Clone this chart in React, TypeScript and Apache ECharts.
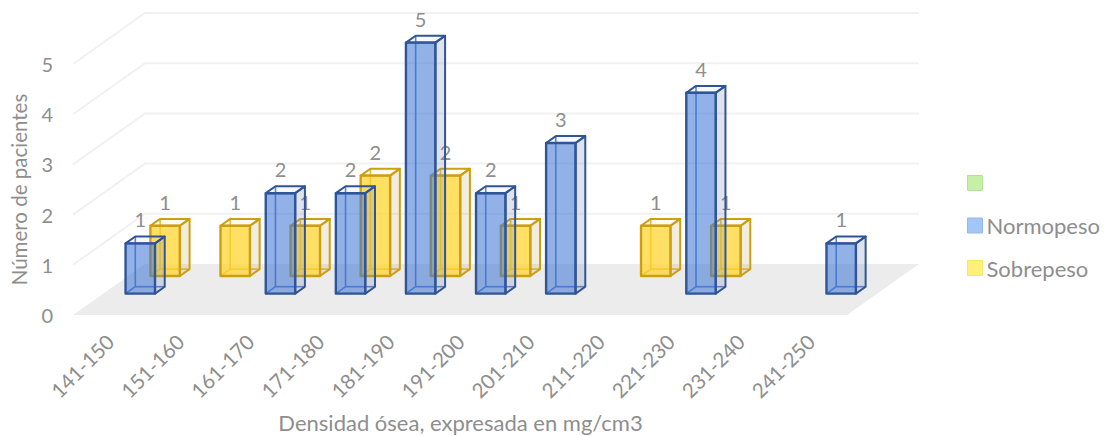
import React, { useEffect, useRef } from "react";
import * as echarts from "echarts";

const rangos = ["141-150", "151-160", "161-170", "171-180", "181-190", "191-200", "201-210", "211-220", "221-230", "231-240", "241-250"];
const normopeso = [1, null, 2, 2, 5, 2, 3, null, 4, null, 1];
const sobrepeso = [1, 1, 1, 2, 2, 1, null, 1, 1, null, null];
const pacientes = [0, 1, 2, 3, 4, 5];

const FONT = "Lato, 'Noto Sans', sans-serif";
const GREY = "#8e8e8e";

// Oblique projection of the chart's depth axis, in pixels for a full floor depth.
const DEPTH_X = 72;
const DEPTH_Y = -51;

type BoxStyle = { front: string; side: string; top: string; edge: string; inner: string };

const BLUE_BOX: BoxStyle = {
  front: "rgba(66,120,214,0.58)",
  side: "rgba(120,140,180,0.24)",
  top: "rgba(170,190,225,0.10)",
  edge: "#2f5597",
  inner: "rgba(60,105,190,0.85)",
};
const YELLOW_BOX: BoxStyle = {
  front: "rgba(255,212,40,0.72)",
  side: "rgba(190,165,80,0.20)",
  top: "rgba(240,220,140,0.14)",
  edge: "#cc9f12",
  inner: "rgba(225,170,10,0.85)",
};

const project = (p: number[], d: number) => [p[0] + DEPTH_X * d, p[1] + DEPTH_Y * d];

// One translucent 3D column, placed on a depth row between dNear and dFar.
const boxRenderer = (style: BoxStyle, dNear: number, dFar: number) => (params: any, api: any) => {
  const i = api.value(0);
  const v = api.value(1);
  const half = api.size([1, 0])[0] * 0.21;
  const base = api.coord([i, 0]);
  const head = api.coord([i, v]);
  const corner = (dx: number, y: number, d: number) => project([base[0] + dx, y], d);
  const fl = corner(-half, base[1], dNear);
  const fr = corner(half, base[1], dNear);
  const tl = corner(-half, head[1], dNear);
  const tr = corner(half, head[1], dNear);
  const bfl = corner(-half, base[1], dFar);
  const bfr = corner(half, base[1], dFar);
  const btl = corner(-half, head[1], dFar);
  const btr = corner(half, head[1], dFar);
  const face = (points: number[][], fill: string, stroke: string, lineWidth: number) => ({
    type: "polygon",
    shape: { points },
    style: { fill, stroke, lineWidth, lineJoin: "round" },
    silent: true,
  });
  const inner = (a: number[], b: number[]) => ({
    type: "line",
    shape: { x1: a[0], y1: a[1], x2: b[0], y2: b[1] },
    style: { stroke: style.inner, lineWidth: 1.6 },
    silent: true,
  });
  return {
    type: "group",
    children: [
      inner(btl, bfl),
      inner(bfl, bfr),
      inner(bfl, fl),
      face([tr, btr, bfr, fr], style.side, style.edge, 2),
      face([tl, tr, btr, btl], style.top, style.edge, 2),
      face([tl, tr, fr, fl], style.front, style.edge, 2.4),
      {
        type: "text",
        x: (tl[0] + tr[0]) / 2,
        y: btl[1] - 17,
        z2: 100,
        silent: true,
        style: {
          text: String(v),
          fill: GREY,
          font: `20px ${FONT}`,
          align: "center",
          verticalAlign: "middle",
        },
      },
    ],
  };
};

// Floor plane and the gridlines running along the side and back walls.
const wallsRenderer = (params: any, api: any) => {
  const v = api.value(0);
  const band = api.size([1, 0])[0];
  const first = api.coord([0, v]);
  const last = api.coord([rangos.length - 1, v]);
  const left = [first[0] - band / 2 - 2, first[1]];
  const right = [last[0] + band / 2 + 1, last[1]];
  if (v === 0) {
    return {
      type: "polygon",
      shape: { points: [left, right, project(right, 1), project(left, 1)] },
      style: { fill: "#ececec", stroke: "none" },
      silent: true,
    };
  }
  return {
    type: "polyline",
    shape: { points: [left, project(left, 1), project(right, 1)] },
    style: { fill: "none", stroke: "#f1f1f1", lineWidth: 2 },
    silent: true,
  };
};

const toRows = (values: (number | null)[]) =>
  values.flatMap((v, i) => (v === null ? [] : [[i, v]]));

export default function App() {
  const ref = useRef<HTMLDivElement>(null);

  useEffect(() => {
    const chart = echarts.init(ref.current!, null, { renderer: "svg" });
    chart.setOption({
      animation: false,
      backgroundColor: "#ffffff",
      grid: { left: 75, top: 64, width: 771, height: 251, containLabel: false, outerBoundsMode: "none" },
      legend: {
        orient: "vertical",
        left: 962,
        top: 167,
        itemWidth: 15,
        itemHeight: 15,
        itemGap: 20.5,
        icon: "rect",
        selectedMode: false,
        textStyle: { color: GREY, fontFamily: FONT, fontSize: 22, padding: [0, 0, 0, -1] },
        data: [
          { name: "\u00a0", itemStyle: { color: "#c6efa8", borderColor: "#b5e096", borderWidth: 1 } },
          { name: "Normopeso", itemStyle: { color: "#a4c6f7", borderColor: "#94b8ee", borderWidth: 1 } },
          { name: "Sobrepeso", itemStyle: { color: "#fff07a", borderColor: "#f5e66c", borderWidth: 1 } },
        ],
      },
      xAxis: {
        type: "category",
        data: rangos,
        axisLine: { show: false },
        axisTick: { show: false },
        splitLine: { show: false },
        axisLabel: {
          color: GREY,
          fontFamily: FONT,
          fontSize: 20.5,
          rotate: 45,
          interval: 0,
          margin: 23,
        },
        name: "Densidad ósea, expresada en mg/cm3",
        nameLocation: "middle",
        nameGap: 96,
        nameTextStyle: { color: GREY, fontFamily: FONT, fontSize: 22 },
      },
      yAxis: {
        type: "value",
        min: 0,
        max: 5,
        interval: 1,
        axisLine: { show: false },
        axisTick: { show: false },
        splitLine: { show: false },
        axisLabel: { color: GREY, fontFamily: FONT, fontSize: 20, margin: 22 },
        name: "Número de pacientes",
        nameLocation: "middle",
        nameGap: 46,
        nameTextStyle: { color: GREY, fontFamily: FONT, fontSize: 20.5 },
      },
      series: [
        {
          name: "walls",
          type: "custom",
          renderItem: wallsRenderer,
          data: pacientes.map((v) => [v]),
          encode: { y: 0 },
          silent: true,
          z: 1,
        },
        { name: "\u00a0", type: "custom", renderItem: () => null, data: [], itemStyle: { color: "#c6efa8" } },
        {
          name: "Sobrepeso",
          type: "custom",
          renderItem: boxRenderer(YELLOW_BOX, 0.765, 0.9),
          data: toRows(sobrepeso),
          encode: { x: 0, y: 1 },
          itemStyle: { color: "#fff07a" },
          z: 2,
        },
        {
          name: "Normopeso",
          type: "custom",
          renderItem: boxRenderer(BLUE_BOX, 0.42, 0.555),
          data: toRows(normopeso),
          encode: { x: 0, y: 1 },
          itemStyle: { color: "#a4c6f7" },
          z: 3,
        },
      ],
    });
    return () => chart.dispose();
  }, []);

  return <div ref={ref} style={{ position: "fixed", left: 0, top: 0, width: 1107, height: 436 }} />;
}
